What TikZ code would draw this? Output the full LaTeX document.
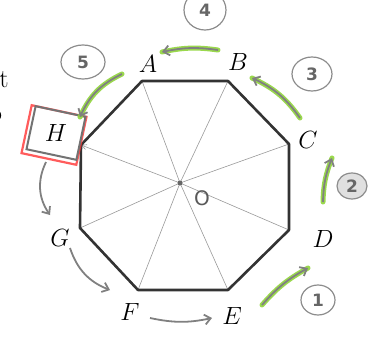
\documentclass[tikz,border=0pt]{standalone}
\usepackage{fontspec}
\newfontfamily\handfont{DejaVu Sans}
\usetikzlibrary{arrows.meta,shapes.geometric}
\definecolor{hgreen}{HTML}{8FD43A}
\tikzset{
  octa/.style={draw=black!80, line width=2.6pt, line join=round},
  pencil/.style={draw=black!40, line width=0.6pt},
  vlabel/.style={font=\fontsize{26}{30}\selectfont, inner sep=0pt},
  garrow/.style={draw=black!50, line width=1.8pt, -{Straight Barb[length=6pt,width=10pt]}},
  hilite/.style={draw=hgreen, line width=5pt, line cap=round, opacity=0.9},
  circnum/.style={ellipse, draw=black!45, line width=1.2pt, text=black!60, font=\handfont\bfseries\fontsize{17}{19}\selectfont, inner sep=0pt},
}
\begin{document}
\begin{tikzpicture}[x=1pt,y=-1pt]
\useasboundingbox (0,0) rectangle (381,343);
% octagon vertices
\coordinate (A) at (142,81);
\coordinate (B) at (228,81);
\coordinate (C) at (289,144);
\coordinate (D) at (289,230);
\coordinate (E) at (228,290);
\coordinate (F) at (138,290);
\coordinate (G) at (80,228);
\coordinate (H) at (81,145);
\coordinate (O) at (180,183);
% pencil spokes
\foreach \v in {A,B,C,D,E,F,G}{\draw[pencil] (O) -- (\v);}
\draw[pencil,-{Straight Barb[length=5pt,width=5pt]}] (O) -- (H);
\fill[black!60] (O) circle (2.5pt);
\node[font=\handfont\fontsize{20}{22}\selectfont, text=black!65] (Olab) at (202,198) {O};
% octagon
\draw[octa] (A) -- (B) -- (C) -- (D) -- (E) -- (F) -- (G) -- (H) -- cycle;
% labels
\node[vlabel] (lA) at (148,64) {$A$};
\node[vlabel] (lB) at (238,62) {$B$};
\node[vlabel] (lC) at (308,140) {$C$};
\node[vlabel] (lD) at (323,239) {$D$};
\node[vlabel] (lE) at (232,316) {$E$};
\node[vlabel] (lF) at (130,312) {$F$};
\node[vlabel] (lG) at (60,238) {$G$};
% H box
\node[draw=red!80, line width=2.2pt, minimum width=56pt, minimum height=49pt, rotate=-12, opacity=0.8] (Hred) at (54,135) {};
\node[draw=black!55, line width=2pt, minimum width=51pt, minimum height=44pt, rotate=-12] (Hbox) at (56,133) {};
\node[vlabel] (lH) at (56,133) {$H$};
% left margin fragments
\node[vlabel] (t) at (4,80) {t};
\node[vlabel] (frag) at (-4,116) {o};
% circled numbers
\node[circnum, minimum width=42pt, minimum height=40pt] (n4) at (205,10) {4};
\node[circnum, minimum width=44pt, minimum height=34pt] (n5) at (83,62) {5};
\node[circnum, minimum width=40pt, minimum height=34pt] (n3) at (312,74) {3};
\node[circnum, minimum width=30pt, minimum height=26pt, fill=black!12] (n2) at (352,186) {2};
\node[circnum, minimum width=34pt, minimum height=30pt] (n1) at (318,300) {1};
% arrow coordinates
\coordinate (a1s) at (262,305); \coordinate (a1e) at (308,268);
\coordinate (a2s) at (323,202); \coordinate (a2e) at (332,158);
\coordinate (a3s) at (300,118); \coordinate (a3e) at (252,78);
\coordinate (a4s) at (218,50);  \coordinate (a4e) at (162,52);
\coordinate (a5s) at (122,74);  \coordinate (a5e) at (80,117);
\coordinate (a6s) at (46,162);  \coordinate (a6e) at (50,215);
\coordinate (a7s) at (70,248);  \coordinate (a7e) at (110,290);
\coordinate (a8s) at (150,318); \coordinate (a8e) at (212,318);
% green highlights
\draw[hilite] (a1s) to[bend left=10] (a1e);
\draw[hilite] (a2s) to[bend left=10] (a2e);
\draw[hilite] (a3s) to[bend right=15] (a3e);
\draw[hilite] (a4s) to[bend right=10] (a4e);
\draw[hilite] (a5s) to[bend right=20] (a5e);
% gray arrows
\draw[garrow] (a1s) to[bend left=10] (a1e);
\draw[garrow] (a2s) to[bend left=10] (a2e);
\draw[garrow] (a3s) to[bend right=15] (a3e);
\draw[garrow] (a4s) to[bend right=10] (a4e);
\draw[garrow] (a5s) to[bend right=20] (a5e);
\draw[garrow] (a6s) to[bend right=30] (a6e);
\draw[garrow] (a7s) to[bend right=25] (a7e);
\draw[garrow] (a8s) to[bend right=12] (a8e);
\end{tikzpicture}
\end{document}
